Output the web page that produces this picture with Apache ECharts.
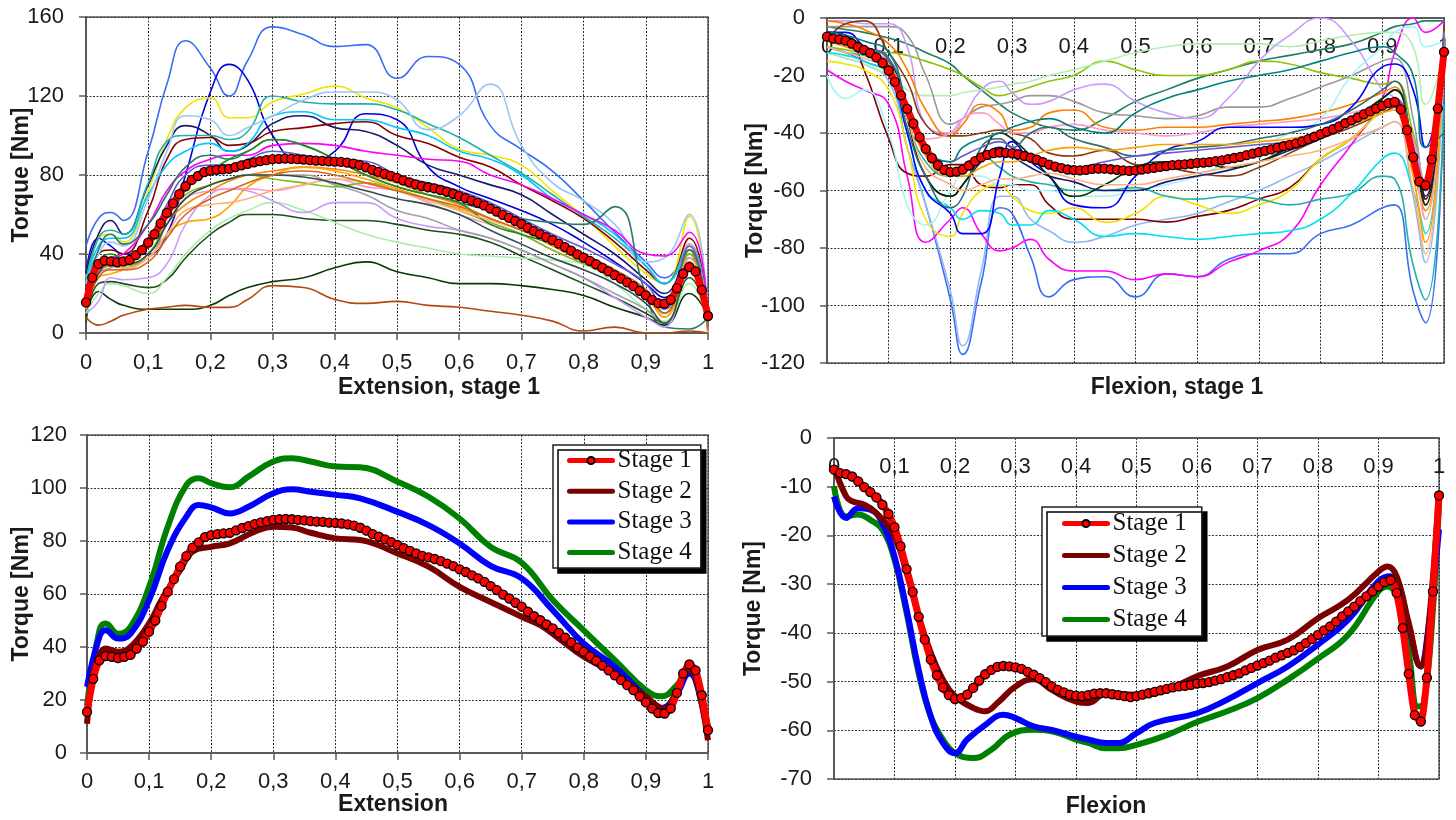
<!DOCTYPE html>
<html><head><meta charset="utf-8">
<script src="https://cdn.jsdelivr.net/npm/echarts@6/dist/echarts.min.js"></script>
<style>html,body{margin:0;padding:0;background:#fff}#c{width:1456px;height:820px}</style>
</head><body><div id="c"></div>
<script>
// ---------- Stage 1 mean curves (x = 0 .. 1 step 0.01) ----------
const extStage1 = [15.5,28,35,36.6,36.3,35.8,36.3,37,39.4,42,45.8,50,55.5,60.8,65.6,70.3,74.3,77.5,79.5,81.5,82.2,82.6,82.9,83.1,84,84.9,85.6,86.4,87,87.5,88,88.2,88.3,88.2,88,87.8,87.5,87.3,87.2,86.9,86.8,86.6,86.3,85.8,85,83.9,82.6,81.6,80.6,79.6,78.5,77.3,76.3,75.3,74.4,73.8,73.2,72.4,71.5,70.5,69.3,68.3,67,65.9,64.6,63,61.5,59.8,58.3,56.7,55.2,53.3,51.6,50.1,48.5,47,45.3,43.5,41.7,39.8,38.2,36.5,34.8,33,31.2,29.3,27.5,25.6,23.7,21.4,19.1,16.8,15.1,14.9,16.8,22.7,30,33.4,31.2,21.8,8.6];
const flxStage1 = [-6.5,-7.2,-7.4,-7.9,-8.9,-10.1,-11.1,-12.2,-13.7,-15.6,-18.3,-22.2,-26.9,-31.6,-36.7,-41.4,-45.5,-48.7,-51.2,-52.8,-53.6,-53.4,-52.7,-51.3,-49.8,-48.5,-47.6,-47,-46.8,-46.9,-47.1,-47.4,-48,-48.6,-49.3,-50.1,-51,-51.7,-52.2,-52.7,-52.9,-53,-52.8,-52.5,-52.4,-52.4,-52.6,-52.8,-53,-53.2,-53,-52.7,-52.4,-52.1,-51.8,-51.5,-51.2,-51,-50.9,-50.7,-50.4,-50.3,-50.1,-49.8,-49.5,-49.1,-48.7,-48.3,-47.7,-47.2,-46.7,-46.2,-45.7,-45.1,-44.6,-44.1,-43.6,-42.9,-42.1,-41.3,-40.4,-39.5,-38.7,-37.7,-36.6,-35.6,-34.6,-33.5,-32.5,-31.5,-30.5,-29.6,-29.2,-31.8,-39,-48.4,-56.9,-58.2,-49.2,-31.5,-11.8];

// ---------- Extension stages 2-4 ----------
const extX2 = [0,.01,.02,.03,.05,.07,.1,.12,.15,.17,.2,.23,.27,.3,.33,.36,.4,.44,.5,.55,.6,.65,.7,.73,.76,.8,.85,.9,.93,.95,.97,.98,1];
const extStage2 = [11,30,37,39.4,38.2,40,48.9,57.7,69,76,77.8,79.1,83.5,85.4,85.1,83.1,81,80.4,75.3,70.3,62.7,57,51.4,48.2,43.2,36.3,30,21.2,16.8,23.7,31.2,28.7,4.8];
const extX34 = [0,.02,.03,.05,.07,.1,.13,.16,.18,.2,.23,.26,.3,.33,.36,.4,.44,.5,.55,.6,.65,.7,.75,.8,.85,.9,.925,.95,.97,.98,1];
const extStage3 = [25,43.8,46.3,43.2,45,57.7,76.6,89.2,93.6,92.7,90.4,92.9,98,99.5,98.6,97.4,96.1,91,86,79.1,70.6,65.9,53.9,41.3,32.5,21.2,17,22.4,30,27.5,6.7];
const extStage4 = [18,46.3,48.9,45,47.6,62.7,85.4,101.1,103.7,101.8,100.3,104.3,110,111.2,110,108.1,107.8,102.4,96.7,88.5,77.8,71.8,57.7,46.3,35,23.7,21.4,25.6,31.2,28.7,9.8];

// ---------- Flexion stages 2-4 ----------
const flxX2 = [0,.02,.03,.05,.07,.1,.12,.14,.16,.18,.2,.23,.25,.27,.3,.33,.36,.4,.42,.45,.5,.55,.6,.65,.7,.75,.8,.85,.9,.915,.93,.95,.97,.98,1];
const flxStage2 = [-5.8,-12,-13,-13.7,-15.4,-20.2,-27.7,-36.6,-44.1,-49.6,-53,-55.4,-56.1,-54.4,-51,-49.5,-51.7,-54.1,-54.4,-52.4,-52.7,-51.7,-48.9,-46.9,-43.5,-41.4,-37,-33.2,-27.4,-26.4,-28.4,-38,-46.9,-42.1,-11];
const flxX3 = [0,.02,.04,.06,.08,.1,.12,.14,.16,.18,.2,.22,.25,.28,.3,.33,.36,.4,.42,.45,.47,.5,.53,.6,.65,.7,.75,.8,.85,.9,.92,.93,.95,.97,.98,1];
const flxStage3 = [-12,-16.4,-14.4,-14.7,-17.5,-24.3,-35.2,-47.6,-57.2,-62.6,-64.7,-61.9,-58.9,-56.8,-57.5,-59.2,-59.9,-61.3,-61.9,-62.6,-62.6,-60.6,-58.5,-56.5,-53.7,-50.3,-46.9,-42.4,-37.3,-29.4,-28.4,-29.8,-38.7,-46.9,-41.4,-18.8];
const flxX4 = [0,.02,.04,.06,.08,.1,.12,.14,.16,.18,.2,.23,.26,.29,.33,.36,.4,.42,.45,.47,.5,.55,.6,.65,.7,.75,.8,.85,.9,.915,.93,.95,.965,.975,.99,1];
const flxStage4 = [-9.9,-16.1,-15.7,-16.8,-18.8,-25,-35.9,-48.3,-57.2,-61.9,-64.7,-65.7,-64,-60.9,-59.9,-60.2,-61.9,-62.6,-63.7,-63.7,-63,-61,-58.3,-56.1,-53.4,-49.6,-45.3,-40.4,-31.5,-30.5,-32.5,-44.1,-55.1,-54.4,-35.2,-13.3];

// ---------- Individual extension curves (stage 1) ----------
const extX = [0,.02,.04,.06,.1,.13,.16,.2,.23,.26,.3,.35,.4,.45,.5,.55,.6,.65,.7,.75,.8,.85,.9,.93,.97,1];
const e01 = [44,58,61,57,92,126,148,134,120,138,155,151,145,146,129,140,136,105,93,82,67,51,36,28,42,6];
const e02 = [30,48,44,40,40,50,80,122,136,128,100,86,92,111,108,84,74,68,62,55,46,36,25,18,38,5];
const e03 = [28,48,50,46,72,98,114,119,109,109,117,121,125,119,114,104,93,90,85,72,59,44,30,25,59,2];
const e04 = [30,50,57,50,75,95,105,100,92,95,106,110,104,102,95,85,80,75,70,60,50,40,27,20,42,5];
const e05 = [22,40,42,40,62,88,98,99,95,96,102,104,106,107,100,96,89,84,75,67,58,46,32,25,48,5];
const e06 = [25,48,52,50,76,97,100,100,98,102,120,117,116,116,113,106,99,90,81,70,59,48,34,25,45,5];
const e07 = [26,44,48,48,70,85,92,96,92,96,110,112,108,108,104,100,92,88,80,68,60,50,34,25,40,5];
const e08 = [25,40,46,44,68,92,110,108,100,104,110,118,122,122,118,103,110,126,95,76,67,55,36,38,60,5];
const e09 = [20,32,38,40,55,72,82,88,90,90,95,96,95,92,90,88,87,80,75,68,60,52,40,39,51,5];
const e10 = [20,42,50,45,55,70,84,90,88,92,98,95,88,80,74,70,66,62,58,56,55,64,20,3,2,8];
const e11 = [5,25,26,25,23,27,38,50,56,60,60,58,57,57,55,52,50,46,39,32,25,18,10,5,28,4];
const e12 = [8,21,17,14,12,12,12,14,19,23,26,28,33,36,31,28,25,25,24,22,19,13,8,4,20,8];
const e13 = [8,4,6,9,12,13,14,13,13,17,24,23,17,15,16,14,13,11,9,6,1,3,0,0,1,0];
const e14 = [10,20,25,24,20,28,40,52,58,62,66,62,56,50,46,43,40,39,38,37,35,25,12,6,25,3];
const e15 = [10,16,28,27,28,35,55,70,73,72,67,61,66,66,58,54,52,48,42,35,28,18,8,3,40,5];
const e16 = [15,28,32,32,40,55,68,72,73,73,72,75,78,74,72,66,60,55,50,42,35,28,18,10,45,5];
const e17 = [15,30,34,33,40,55,65,72,77,80,82,84,83,80,76,70,65,58,52,44,36,28,18,8,40,0];
const e18 = [12,28,30,32,38,50,56,58,64,74,80,84,82,78,73,68,63,58,52,45,38,28,18,8,42,0];
const e19 = [14,30,33,35,38,55,68,75,78,80,80,80,75,70,62,58,52,48,42,35,28,20,12,5,35,0];
const e20 = [18,32,35,34,40,58,70,75,78,80,78,76,74,76,72,68,62,56,50,42,35,28,20,12,40,5];
const e21 = [18,36,40,38,45,62,75,82,88,92,98,95,88,80,74,70,66,55,50,45,38,30,20,10,42,5];
const e22 = [15,30,35,33,38,50,62,65,66,68,72,75,78,76,72,67,62,57,52,45,38,30,22,12,38,3];
const e23 = [18,35,38,38,48,65,80,85,85,88,92,90,88,87,80,76,72,66,58,50,43,35,25,12,44,3];
const e24 = [15,30,35,35,40,55,68,75,78,80,80,79,76,72,68,65,60,52,45,38,32,25,15,5,32,3];
const e25 = [14,28,32,32,36,48,60,68,72,76,80,82,80,76,72,68,64,58,52,46,40,32,22,10,36,2];
const extColors = ['#3b6cf6','#0000e0','#f2e400','#191970','#8b0000','#20b2aa','#00c8ff','#9ac8f5','#ff00ff','#2a7a6a','#1e4d1e','#0a3a0a','#b5480f','#a8f0a8','#c89bff','#ff99cc','#ff8000','#ffa500','#a0a0a0','#7cbf1e','#228b22','#ffb07a','#6a5acd','#2f4f4f','#d2691e'];

// ---------- Individual flexion curves (stage 1) ----------
const flxX = [0,.03,.06,.1,.13,.16,.2,.22,.25,.28,.3,.33,.36,.4,.45,.5,.55,.6,.65,.7,.75,.8,.85,.9,.92,.95,.97,1];
const f01 = [-10,-12,-15,-20,-45,-65,-98,-117,-92,-66,-68,-83,-97,-91,-90,-97,-89,-90,-84,-82,-82,-75,-72,-66,-65,-95,-106,-28];
const f02 = [-12,-14,-16,-22,-45,-65,-95,-114,-88,-62,-62,-70,-74,-78,-76,-72,-70,-68,-64,-60,-55,-50,-44,-38,-36,-62,-85,-15];
const f03 = [-18,-22,-25,-30,-55,-78,-70,-66,-75,-81,-80,-77,-84,-88,-88,-91,-89,-90,-85,-81,-75,-58,-44,-28,-12,0,-5,-1];
const f04 = [-3,-4,-5,-7,-9,-12,-16,-20,-25,-30,-33,-36,-38,-39,-35,-29,-25,-21,-18,-15,-13,-11,-9,-5,-3,-2,-1,-1];
const f05 = [-10,-11,-12,-12,-13,-15,-18,-20,-24,-27,-26,-24,-22,-20,-15,-18,-20,-20,-18,-15,-16,-19,-21,-23,-22,-40,-58,-12];
const f06 = [-12,-14,-16,-20,-25,-27,-27,-26,-25,-24,-23,-22,-20,-18,-15,-12,-10,-9,-9,-9,-10,-8,-6,-5,-5,-10,-30,-12];
const f07 = [-3,-3,-3,-3,-6,-20,-37,-35,-31,-30,-29,-27,-27,-29,-33,-34,-35,-34,-31,-31,-28,-24,-20,-15,-14,-35,-63,-7];
const f08 = [-1,-1,-2,-2,-10,-37,-40,-35,-25,-22,-26,-30,-29,-25,-23,-29,-33,-35,-28,-15,-6,0,-8,-25,-28,-42,-60,-10];
const f09 = [-1,-2,-4,-9,-18,-32,-41,-37,-30,-33,-39,-38,-33,-32,-38,-39,-38,-38,-37,-36,-35,-33,-30,-26,-24,-52,-67,-10];
const f10 = [-8,-2,-1,-12,-22,-37,-41,-41,-40,-39,-40,-42,-47,-48,-46,-51,-52,-54,-55,-52,-47,-42,-38,-33,-31,-50,-65,-2];
const f11 = [-5,-6,-18,-42,-54,-55,-51,-51,-58,-59,-58,-58,-65,-70,-70,-70,-71,-69,-67,-63,-59,-49,-42,-32,-30,-46,-63,-5];
const f12 = [-15,-16,-18,-25,-45,-70,-76,-68,-60,-58,-62,-67,-68,-66,-71,-68,-62,-65,-68,-65,-60,-49,-42,-32,-30,-50,-70,-5];
const f13 = [-12,-13,-15,-20,-40,-60,-66,-70,-67,-68,-72,-72,-67,-70,-76,-75,-76,-77,-76,-75,-74,-70,-61,-49,-47,-60,-75,-5];
const f14 = [-20,-28,-25,-40,-65,-72,-60,-55,-55,-58,-58,-60,-60,-62,-62,-60,-58,-55,-50,-45,-40,-35,-20,-10,-5,-3,-10,-8];
const f15 = [-10,-12,-13,-16,-35,-50,-55,-52,-48,-52,-55,-57,-58,-60,-60,-59,-62,-63,-62,-63,-65,-63,-61,-55,-56,-86,-98,-30];
const f16 = [-8,-10,-12,-15,-30,-42,-40,-35,-33,-37,-40,-40,-38,-37,-39,-40,-41,-40,-38,-37,-36,-35,-33,-30,-28,-50,-70,-5];
const f17 = [-8,-9,-12,-18,-35,-55,-62,-58,-50,-45,-48,-52,-55,-57,-60,-60,-57,-55,-53,-50,-46,-42,-36,-28,-25,-45,-62,-5];
const f18 = [-5,-5,-10,-17,-40,-60,-68,-75,-75,-55,-43,-50,-55,-65,-66,-55,-46,-43,-38,-38,-38,-37,-31,-17,-16,-25,-45,-10];
const f19 = [-5,-6,-10,-14,-35,-55,-62,-58,-48,-40,-42,-48,-55,-62,-58,-52,-50,-50,-52,-50,-45,-40,-35,-28,-25,-45,-65,-5];
const f20 = [-6,-8,-10,-15,-38,-55,-66,-62,-45,-42,-45,-40,-38,-42,-45,-48,-46,-45,-44,-42,-40,-37,-32,-25,-22,-45,-60,-5];
const f21 = [-10,-12,-14,-18,-35,-52,-58,-60,-58,-56,-56,-55,-54,-56,-58,-58,-56,-54,-52,-50,-48,-46,-42,-38,-36,-60,-82,-5];
const f22 = [-8,-10,-12,-16,-32,-48,-55,-55,-52,-50,-50,-48,-46,-45,-46,-45,-44,-44,-44,-43,-42,-40,-37,-33,-32,-55,-78,-8];
const f23 = [-6,-8,-10,-14,-30,-45,-50,-48,-45,-43,-45,-48,-50,-52,-50,-48,-47,-46,-45,-44,-43,-40,-36,-30,-28,-45,-60,-5];
const f24 = [-5,-6,-8,-12,-30,-45,-50,-45,-42,-40,-38,-36,-35,-38,-40,-33,-28,-25,-22,-20,-18,-15,-12,-10,-12,-20,-45,-40];
const flxColors = ['#3b6cf6','#8fb8f0','#ff00ff','#1f7f5f','#8cc20a','#b0f0b0','#999999','#c89bff','#ff7f00','#8b3a0f','#800000','#f2e400','#00e0f0','#a8f4f8','#20b2aa','#ff99cc','#191970','#0000ff','#003300','#2f6f6f','#ffb07a','#ffa000','#6a5acd','#008080'];

const stageNames = ['Stage 1','Stage 2','Stage 3','Stage 4'];
const stageColors = ['#ff0000','#7b0000','#0000ff','#008000'];

// ---------- build ----------
const pctX = extStage1.map((_, i) => i / 100);
const pairs = (xs, ys) => xs.map((x, i) => [x, ys[i]]);
const SANS = '"Liberation Sans", Arial, sans-serif';
const TXT = '#1a1a1a';

const extCurves = [e01,e02,e03,e04,e05,e06,e07,e08,e09,e10,e11,e12,e13,e14,e15,e16,e17,e18,e19,e20,e21,e22,e23,e24,e25];
const flxCurves = [f01,f02,f03,f04,f05,f06,f07,f08,f09,f10,f11,f12,f13,f14,f15,f16,f17,f18,f19,f20,f21,f22,f23,f24];

function thin(idx, xs, ys, color, i) {
  return { type: 'line', name: 'Trial ' + (i + 1), xAxisIndex: idx, yAxisIndex: idx, data: pairs(xs, ys),
    smooth: 0.5, symbol: 'none', silent: true, z: 2,
    lineStyle: { color, width: 1.6 } };
}
function stage1(idx, ys) {
  return { type: 'line', name: 'Stage 1', xAxisIndex: idx, yAxisIndex: idx, data: pairs(pctX, ys),
    smooth: 0.2, symbol: 'circle', symbolSize: 9, showSymbol: true, z: 5,
    lineStyle: { color: stageColors[0], width: 7 },
    itemStyle: { color: stageColors[0], borderColor: '#000', borderWidth: 1.3 } };
}
function thick(idx, k, xs, ys) {
  return { type: 'line', name: stageNames[k], xAxisIndex: idx, yAxisIndex: idx, data: pairs(xs, ys),
    smooth: 0.45, symbol: 'none', z: 4 - k * 0.1,
    lineStyle: { color: stageColors[k], width: 6 }, itemStyle: { color: stageColors[k] } };
}

const series = [];
series.push(stage1(2, extStage1));
series.push(thick(2, 1, extX2, extStage2));
series.push(thick(2, 2, extX34, extStage3));
series.push(thick(2, 3, extX34, extStage4));
series.push(stage1(3, flxStage1));
series.push(thick(3, 1, flxX2, flxStage2));
series.push(thick(3, 2, flxX3, flxStage3));
series.push(thick(3, 3, flxX4, flxStage4));
extCurves.forEach((ys, i) => series.push(thin(0, extX, ys, extColors[i], i)));
flxCurves.forEach((ys, i) => series.push(thin(1, flxX, ys, flxColors[i], i)));
series.push(stage1(0, extStage1));
series.push(stage1(1, flxStage1));

const fmtX = v => (v === 0 || v === 1) ? String(v) : v.toFixed(1).replace('.', ',');
const gridStyle = { show: true, borderColor: '#5a5a5a', borderWidth: 1.5, backgroundColor: 'transparent' };
const splitLine = { show: true, lineStyle: { color: '#333', width: 1, type: [2, 1.5] } };
const axisLine = { show: true, onZero: false, lineStyle: { color: '#5a5a5a', width: 2 } };
const axisTick = { show: true, length: 7, lineStyle: { color: '#5a5a5a', width: 1.5 } };

function xAx(idx, pos, margin, inside) {
  return { type: 'value', gridIndex: idx, min: 0, max: 1, interval: 0.1, position: pos,
    axisLine, axisTick: inside ? { show: false } : axisTick, splitLine,
    axisLabel: { inside: !!inside, margin, formatter: fmtX, fontSize: 22, color: TXT, fontFamily: SANS, showMinLabel: true, showMaxLabel: true } };
}
function yAx(idx, min, max, interval, gap, margin) {
  return { type: 'value', gridIndex: idx, min, max, interval,
    name: 'Torque [Nm]', nameLocation: 'middle', nameGap: gap, nameMoveOverlap: false,
    nameTextStyle: { fontSize: 23, fontWeight: 'bold', color: TXT, fontFamily: SANS },
    axisLine, axisTick, splitLine,
    axisLabel: { margin, fontSize: 22, color: TXT, fontFamily: SANS, showMinLabel: true, showMaxLabel: true } };
}
const legendData = stageNames.map((n, i) => i === 0 ? n : { name: n, itemStyle: { opacity: 0 } });
function legendAt(left, top, padding, gap) {
  return { data: legendData, orient: 'vertical', left, top, padding, itemGap: gap,
    itemWidth: 43, itemHeight: 9, selectedMode: false,
    lineStyle: { width: 5, cap: 'round' },
    textStyle: { fontFamily: '"Liberation Serif", "Times New Roman", serif', fontSize: 25, color: '#111' },
    backgroundColor: '#fff', borderColor: '#222', borderWidth: 1.5, borderRadius: 0,
    shadowColor: '#000', shadowBlur: 0, shadowOffsetX: 5, shadowOffsetY: 5 };
}
function title(x, y, text) {
  return { type: 'text', x, y, z: 10, style: { text, fill: TXT, font: 'bold 23px ' + SANS, align: 'center', verticalAlign: 'middle' } };
}

const chart = echarts.init(document.getElementById('c'), null, { renderer: 'canvas' });
chart.setOption({
  animation: false,
  backgroundColor: '#fff',
  grid: [
    Object.assign({ left: 86, top: 17, width: 622, height: 316 }, gridStyle),
    Object.assign({ left: 827, top: 18, width: 617, height: 345 }, gridStyle),
    Object.assign({ left: 87, top: 435, width: 621, height: 318 }, gridStyle),
    Object.assign({ left: 834, top: 438, width: 605, height: 341 }, gridStyle)
  ],
  xAxis: [xAx(0, 'bottom', 19), xAx(1, 'top', 18, true), xAx(2, 'bottom', 18), xAx(3, 'top', 18, true)],
  yAxis: [yAx(0, 0, 160, 40, 53, 22), yAx(1, -120, 0, 20, 60, 22), yAx(2, 0, 120, 20, 54, 20), yAx(3, -70, 0, 10, 69, 22)],
  legend: [legendAt(553, 445, [3, 9, 3, 14], 5.7), legendAt(1042, 507, [4, 15, 4, 20], 7)],
  graphic: [
    title(439, 388, 'Extension, stage 1'),
    title(1177, 388, 'Flexion, stage 1'),
    title(393, 805, 'Extension'),
    title(1106, 807, 'Flexion')
  ],
  series
});
</script>
</body></html>
